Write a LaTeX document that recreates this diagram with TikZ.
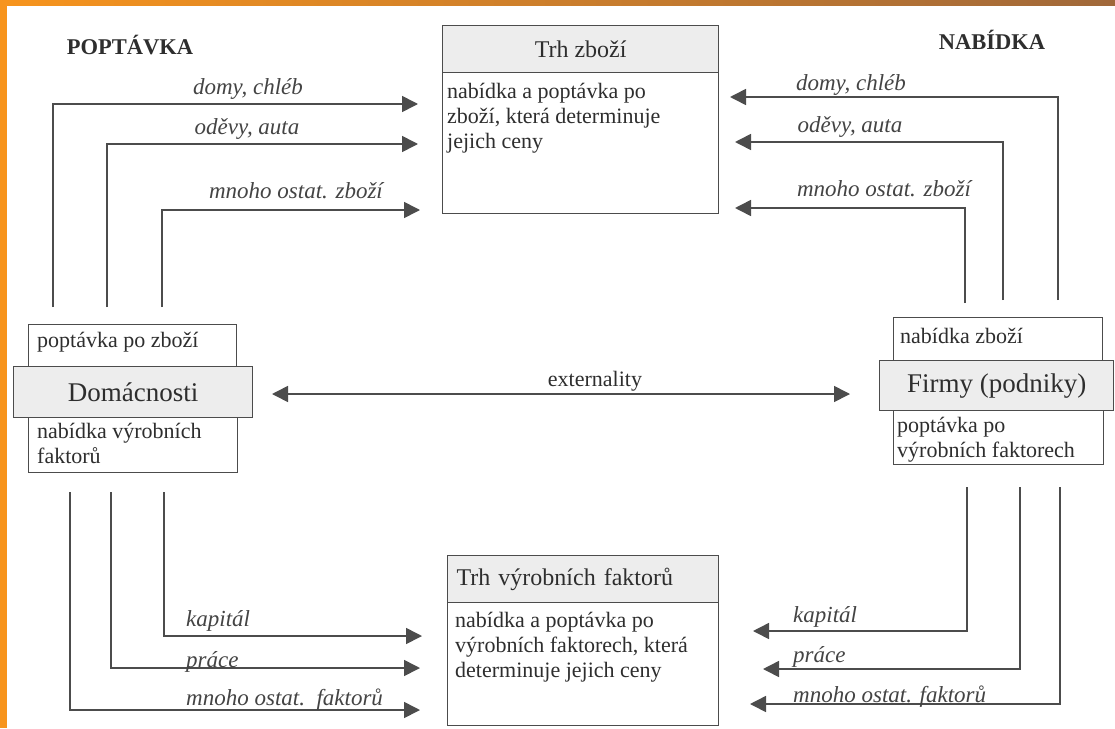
\documentclass[tikz,border=0pt]{standalone}
\usepackage{fontspec}
\setmainfont{Liberation Serif}
\usetikzlibrary{arrows.meta}
\definecolor{ink}{HTML}{2E2E2E}
\definecolor{ink2}{HTML}{444444}
\definecolor{linec}{HTML}{4C4C4C}
\definecolor{hdrgray}{HTML}{EDEDED}
\definecolor{orangeL}{HTML}{F7941D}
\definecolor{brownR}{HTML}{A0683A}
\begin{document}
\begin{tikzpicture}[x=1pt, y=-1pt,
  box/.style = {draw=linec, line width=1.3pt, fill=white, inner sep=0pt, anchor=north west},
  hdr/.style = {box, fill=hdrgray, text=ink, font=\fontsize{24}{26}\selectfont},
  midbox/.style = {box, fill=hdrgray, text=ink, font=\fontsize{27}{30}\selectfont},
  txt/.style = {anchor=north west, align=left, inner sep=0pt, text=ink, font=\fontsize{22}{25}\selectfont},
  lbl/.style = {inner sep=0pt, text=ink2, font=\itshape\fontsize{23}{26}\selectfont},
  title/.style = {inner sep=0pt, text=ink, font=\bfseries\fontsize{22.5}{25}\selectfont},
  flow/.style = {draw=linec, line width=1.6pt, -{Triangle[length=16pt, width=16pt]}},
  twoway/.style = {draw=linec, line width=1.6pt, {Triangle[length=16pt, width=16pt]}-{Triangle[length=16pt, width=16pt]}}]

% page and frame
\useasboundingbox (0,0) rectangle (1115,728);
\fill[white] (0,0) rectangle (1115,728);
\fill[orangeL] (0,0) rectangle (7,728);
\shade[left color=orangeL, right color=brownR] (0,0) rectangle (1115,5);

% titles
\node[title] (popt) at (130,45) {POPTÁVKA};
\node[title] (nab) at (992,40) {NABÍDKA};

% market for goods
\node[hdr, minimum width=276pt, minimum height=47pt] (trhzH) at (442,25) {Trh zboží};
\node[box, minimum width=276pt, minimum height=141pt] (trhzB) at (442,72) {};
\node[txt] (trhzT) at ([xshift=5pt,yshift=-11pt]trhzB.north west)
  {nabídka a poptávka po\\zboží, která determinuje\\jejich ceny};

% market for factors
\node[hdr, minimum height=47pt, text width=253pt, inner xsep=9pt, align=left] (trhfH) at (447,555) {Trh výrobních faktorů};
\node[box, minimum width=271pt, minimum height=123pt] (trhfB) at (447,602) {};
\node[txt] (trhfT) at ([xshift=8pt,yshift=-10pt]trhfB.north west)
  {nabídka a poptávka po\\výrobních faktorech, která\\determinuje jejich ceny};

% households
\node[box, minimum width=208pt, minimum height=43pt] (domTop) at (28,324) {};
\node[box, minimum width=209pt, minimum height=55pt] (domBot) at (28,417) {};
\node[midbox, minimum width=239pt, minimum height=51pt] (dom) at (13,366) {Domácnosti};
\node[txt, anchor=west] (domTopT) at (37,342) {poptávka po zboží};
\node[txt] (domBotT) at ([xshift=9pt,yshift=-6pt]domBot.north west)
  {nabídka výrobních\\faktorů};

% firms
\node[box, minimum width=209pt, minimum height=43pt] (firTop) at (893,317) {};
\node[box, minimum width=210pt, minimum height=54pt] (firBot) at (893,410) {};
\node[midbox, minimum width=234pt, minimum height=50pt] (fir) at (879,360) {Firmy (podniky)};
\node[txt, anchor=west] (firTopT) at (900,336) {nabídka zboží};
\node[txt] (firBotT) at ([xshift=4pt,yshift=-7pt]firBot.north west)
  {poptávka po\\výrobních faktorech};

% externality
\coordinate (exL) at (272,394);
\coordinate (exR) at (850,394);
\draw[twoway] (exL) -- (exR);
\node[inner sep=0pt, text=ink, font=\fontsize{22}{25}\selectfont] (exT) at (595,381) {externality};

% demand for goods (left, top)
\coordinate (gl1) at (53,307);  \coordinate (gl1e) at (418,104);
\coordinate (gl2) at (107,307); \coordinate (gl2e) at (418,144);
\coordinate (gl3) at (162,307); \coordinate (gl3e) at (420,210);
\draw[flow] (gl1) |- (gl1e);
\draw[flow] (gl2) |- (gl2e);
\draw[flow] (gl3) |- (gl3e);
\node[lbl] (gl1T) at (248,89) {domy, chléb};
\node[lbl] (gl2T) at (247,129) {oděvy, auta};
\node[lbl] (gl3T) at (296,191) {mnoho ostat. zboží};

% supply of goods (right, top)
\coordinate (gr1) at (1058,300); \coordinate (gr1e) at (730,97);
\coordinate (gr2) at (1003,300); \coordinate (gr2e) at (735,142);
\coordinate (gr3) at (965,303);  \coordinate (gr3e) at (735,208);
\draw[flow] (gr1) |- (gr1e);
\draw[flow] (gr2) |- (gr2e);
\draw[flow] (gr3) |- (gr3e);
\node[lbl] (gr1T) at (851,85) {domy, chléb};
\node[lbl] (gr2T) at (850,127) {oděvy, auta};
\node[lbl] (gr3T) at (884,189) {mnoho ostat. zboží};

% supply of factors (left, bottom)
\coordinate (fl1) at (164,492); \coordinate (fl1e) at (422,636);
\coordinate (fl2) at (111,492); \coordinate (fl2e) at (420,668);
\coordinate (fl3) at (70,492);  \coordinate (fl3e) at (420,710);
\draw[flow] (fl1) |- (fl1e);
\draw[flow] (fl2) |- (fl2e);
\draw[flow] (fl3) |- (fl3e);
\node[lbl, anchor=west] (fl1T) at (186,621) {kapitál};
\node[lbl, anchor=west] (fl2T) at (186,662) {práce};
\node[lbl, anchor=west] (fl3T) at (186,700) {mnoho ostat.\ \ faktorů};

% demand for factors (right, bottom)
\coordinate (fr1) at (967,487);  \coordinate (fr1e) at (753,631);
\coordinate (fr2) at (1020,487); \coordinate (fr2e) at (763,669);
\coordinate (fr3) at (1060,487); \coordinate (fr3e) at (750,704);
\draw[flow] (fr1) |- (fr1e);
\draw[flow] (fr2) |- (fr2e);
\draw[flow] (fr3) |- (fr3e);
\node[lbl, anchor=west] (fr1T) at (793,617) {kapitál};
\node[lbl, anchor=west] (fr2T) at (793,657) {práce};
\node[lbl, anchor=west] (fr3T) at (793,697) {mnoho ostat. faktorů};
\end{tikzpicture}
\end{document}
